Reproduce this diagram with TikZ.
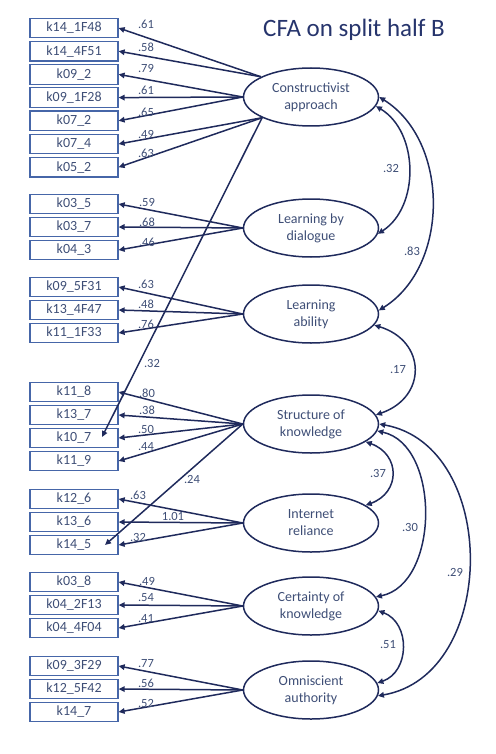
\documentclass[tikz,border=0pt]{standalone}
\usepackage{fontspec}
\setmainfont{Carlito}
\usetikzlibrary{shapes.geometric,arrows.meta,calc}
\definecolor{linec}{RGB}{31,42,92}
\definecolor{boxc}{RGB}{70,102,168}
\definecolor{txtc}{RGB}{62,78,118}
\definecolor{titc}{RGB}{38,52,108}
\begin{document}
\begin{tikzpicture}[x=1pt,y=1pt,
  obs/.style={draw=boxc, line width=1.2pt, minimum width=88pt, minimum height=19.5pt, inner sep=0pt, font=\fontsize{14}{16}\selectfont, text=txtc},
  lat/.style={ellipse, draw=linec, line width=1.5pt, minimum width=135pt, minimum height=58pt, inner sep=0pt, align=center, font=\fontsize{14}{17}\selectfont, text=txtc},
  coef/.style={font=\fontsize{12.5}{14}\selectfont, text=txtc, inner sep=0pt},
  ld/.style={draw=linec, line width=1.5pt, -{Triangle[length=6pt,width=5.5pt]}},
  cv/.style={draw=linec, line width=1.5pt, {Triangle[length=6pt,width=5.5pt]}-{Triangle[length=6pt,width=5.5pt]}}
]
\useasboundingbox (0,0) rectangle (495,-754);
\node[font=\fontsize{25}{30}\selectfont, text=titc, anchor=base] (title) at (354,-37) {CFA on split half B};

% observed boxes
\node[obs] (a1) at (74,-28) {k14\_1F48};
\node[obs] (a2) at (74,-51.2) {k14\_4F51};
\node[obs] (a3) at (74,-74.4) {k09\_2};
\node[obs] (a4) at (74,-97.6) {k09\_1F28};
\node[obs] (a5) at (74,-120.8) {k07\_2};
\node[obs] (a6) at (74,-144) {k07\_4};
\node[obs] (a7) at (74,-167.2) {k05\_2};

\node[obs] (b1) at (74,-204) {k03\_5};
\node[obs] (b2) at (74,-227) {k03\_7};
\node[obs] (b3) at (74,-250) {k04\_3};

\node[obs] (c1) at (74,-287) {k09\_5F31};
\node[obs] (c2) at (74,-310) {k13\_4F47};
\node[obs] (c3) at (74,-333) {k11\_1F33};

\node[obs] (d1) at (74,-392) {k11\_8};
\node[obs] (d2) at (74,-415) {k13\_7};
\node[obs] (d3) at (74,-438) {k10\_7};
\node[obs] (d4) at (74,-461) {k11\_9};

\node[obs] (e1) at (74,-499) {k12\_6};
\node[obs] (e2) at (74,-522) {k13\_6};
\node[obs] (e3) at (74,-545) {k14\_5};

\node[obs] (f1) at (74,-582) {k03\_8};
\node[obs] (f2) at (74,-605) {k04\_2F13};
\node[obs] (f3) at (74,-628) {k04\_4F04};

\node[obs] (g1) at (74,-666) {k09\_3F29};
\node[obs] (g2) at (74,-689) {k12\_5F42};
\node[obs] (g3) at (74,-712) {k14\_7};

% latent ellipses
\node[lat] (ca) at (311,-97) {Constructivist\\approach};
\node[lat] (lbd) at (311,-228) {Learning by\\dialogue};
\node[lat] (la) at (311,-314) {Learning\\ability};
\node[lat] (sok) at (311,-424) {Structure of\\knowledge};
\node[lat] (ir) at (311,-523) {Internet\\reliance};
\node[lat] (cok) at (311,-606) {Certainty of\\knowledge};
\node[lat] (oa) at (311,-690) {Omniscient\\authority};

% loadings
\draw[ld] (ca.158) -- (a1.east);
\draw[ld] (ca.158) -- (a2.east);
\draw[ld] (ca.west) -- (a3.east);
\draw[ld] (ca.west) -- (a4.east);
\draw[ld] (ca.west) -- (a5.east);
\draw[ld] (ca.203) -- (a6.east);
\draw[ld] (ca.203) -- (a7.east);
\coordinate (t1) at ($(d3.center)+(28,1)$);
\draw[ld] (ca.203) -- (t1);

\draw[ld] (lbd.west) -- (b1.east);
\draw[ld] (lbd.west) -- (b2.east);
\draw[ld] (lbd.west) -- (b3.east);

\draw[ld] (la.west) -- (c1.east);
\draw[ld] (la.west) -- (c2.east);
\draw[ld] (la.west) -- (c3.east);

\draw[ld] (sok.west) -- (d1.east);
\draw[ld] (sok.west) -- (d2.east);
\draw[ld] (sok.west) -- (d3.east);
\draw[ld] (sok.west) -- (d4.east);
\coordinate (t2) at ($(e3.center)+(31,0)$);
\draw[ld] (sok.west) -- (t2);

\draw[ld] (ir.west) -- (e1.east);
\draw[ld] (ir.west) -- (e2.east);
\draw[ld] (ir.west) -- (e3.east);

\draw[ld] (cok.west) -- (f1.east);
\draw[ld] (cok.west) -- (f2.east);
\draw[ld] (cok.west) -- (f3.east);

\draw[ld] (oa.west) -- (g1.east);
\draw[ld] (oa.west) -- (g2.east);
\draw[ld] (oa.west) -- (g3.east);

% covariances
\draw[cv] (ca.-8) to[bend left=58] (lbd.-5);
\draw[cv] (ca.east) to[bend left=58] (la.3);
\draw[cv] (la.-10) to[bend left=72, looseness=1.55] (sok.8);
\draw[cv] (sok.-18) to[bend left=70, looseness=1.5] (ir.18);
\draw[cv] (sok.-6) to[bend left=78] (cok.8);
\draw[cv] (sok.east) to[bend left=80, looseness=1.15] (oa.-5);
\draw[cv] (cok.-4) to[bend left=70, looseness=1.22] (oa.6);

% loading labels
\node[coef] (l1) at (146,-24) {.61};
\node[coef] (l2) at (146,-47) {.58};
\node[coef] (l3) at (146,-68) {.79};
\node[coef] (l4) at (146,-90) {.61};
\node[coef] (l5) at (146,-112) {.65};
\node[coef] (l6) at (146,-134) {.49};
\node[coef] (l7) at (146,-153) {.63};
\node[coef] (l8) at (147,-202) {.59};
\node[coef] (l9) at (147,-222) {.68};
\node[coef] (l10) at (147,-242) {.46};
\node[coef] (l11) at (146,-284) {.63};
\node[coef] (l12) at (146,-304) {.48};
\node[coef] (l13) at (146,-324) {.76};
\node[coef] (l14) at (152,-363) {.32};
\node[coef] (l15) at (147,-393) {.80};
\node[coef] (l16) at (147,-410) {.38};
\node[coef] (l17) at (146,-429) {.50};
\node[coef] (l18) at (146,-447) {.44};
\node[coef] (l19) at (192,-479) {.24};
\node[coef] (l20) at (138,-495) {.63};
\node[coef] (l21) at (173,-516) {1.01};
\node[coef] (l22) at (138,-537) {.32};
\node[coef] (l23) at (147,-581) {.49};
\node[coef] (l24) at (146,-598) {.54};
\node[coef] (l25) at (146,-619) {.41};
\node[coef] (l26) at (146,-664) {.77};
\node[coef] (l27) at (146,-683) {.56};
\node[coef] (l28) at (146,-703) {.52};

% covariance labels
\node[coef] (r1) at (391,-168) {.32};
\node[coef] (r2) at (412,-251) {.83};
\node[coef] (r3) at (398,-370) {.17};
\node[coef] (r4) at (378,-473) {.37};
\node[coef] (r5) at (410,-527) {.30};
\node[coef] (r6) at (455,-572) {.29};
\node[coef] (r7) at (388,-645) {.51};
\end{tikzpicture}
\end{document}
